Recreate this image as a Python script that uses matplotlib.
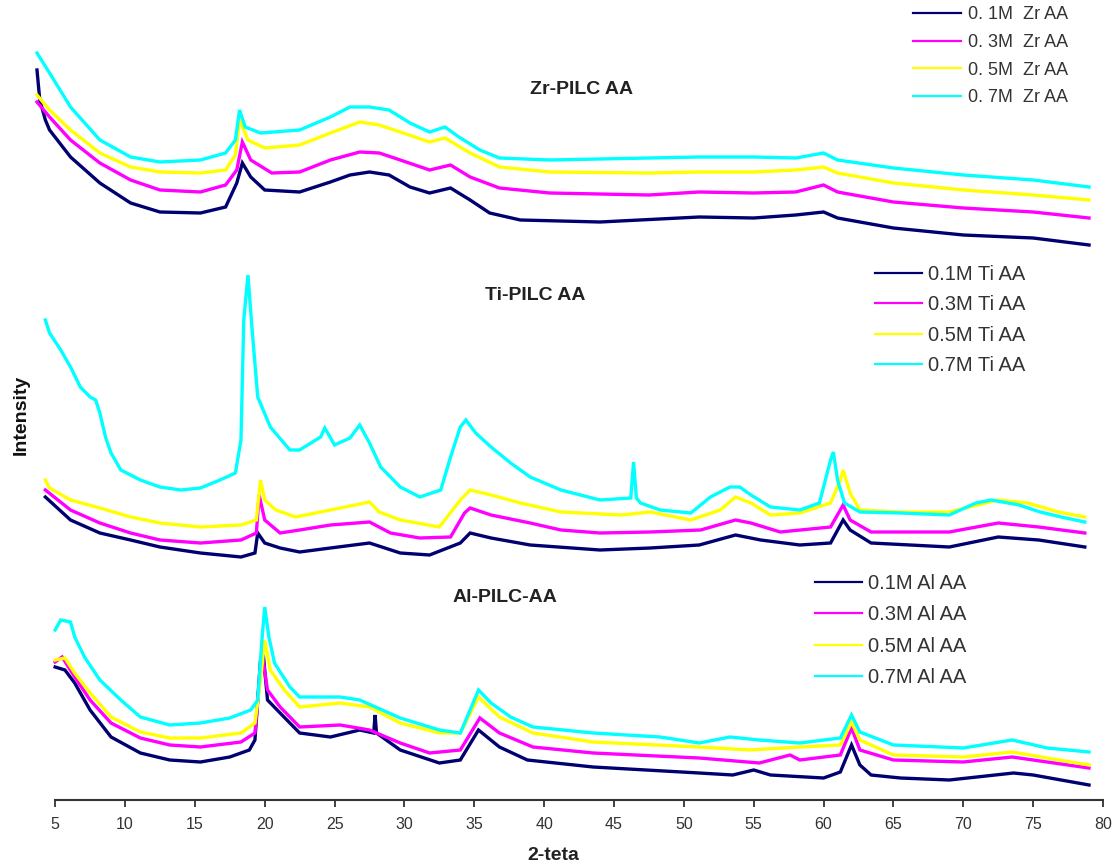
import matplotlib
matplotlib.use("Agg")
import matplotlib.pyplot as plt
from matplotlib.lines import Line2D

plt.rcParams['font.family'] = ['Liberation Sans', 'DejaVu Sans']

# colours of the four concentrations
colors = ['#000070', '#ff00ff', '#ffff00', '#00ffff']
conc = ['0.1M', '0.3M', '0.5M', '0.7M']

# ---- Zr-PILC AA (2-theta, intensity) ----
zr_01_x = [3.7, 3.9, 4.3, 4.6, 6.1, 8.2, 10.4, 12.5, 15.4, 17.2, 18.0, 18.4, 19.0, 20.0, 22.5, 24.7, 26.1,
           27.5, 28.9, 30.4, 31.8, 33.3, 34.7, 36.1, 38.3, 44, 51.1, 55, 58, 60, 61, 65, 70, 75, 79]
zr_01_y = [730, 700, 680, 670, 643, 617, 597, 588, 587, 593, 617, 637, 623, 610, 608, 618, 625,
           628, 625, 613, 607, 612, 600, 587, 580, 578, 583, 582, 585, 588, 582, 572, 565, 562, 555]
zr_03_x = [3.7, 4.6, 6.1, 8.2, 10.4, 12.5, 15.4, 17.2, 18.0, 18.4, 19.0, 20.5, 22.5, 24.7, 26.8, 28.2,
           29.7, 31.8, 33.3, 34.7, 36.8, 40.4, 47.5, 51.1, 55, 58, 60, 61, 65, 70, 75, 79]
zr_03_y = [698, 683, 660, 637, 620, 610, 608, 615, 630, 658, 640, 627, 628, 640, 648, 647,
           640, 630, 635, 623, 612, 607, 605, 608, 607, 608, 615, 608, 598, 592, 588, 582]
zr_05_x = [3.7, 4.6, 6.1, 8.2, 10.4, 12.5, 15.4, 17.2, 17.9, 18.2, 18.8, 20, 22.5, 24.7, 26.8, 28.2,
           29.7, 31.8, 32.9, 34.7, 36.8, 40.4, 47.5, 51.1, 55, 58, 60, 61, 65, 70, 75, 79]
zr_05_y = [705, 690, 670, 647, 633, 628, 627, 630, 645, 680, 660, 652, 655, 667, 678, 675,
           668, 658, 662, 647, 633, 628, 627, 628, 628, 630, 633, 627, 617, 610, 605, 600]
zr_07_x = [3.7, 4.6, 6.1, 8.2, 10.4, 12.5, 15.4, 17.2, 17.9, 18.2, 18.6, 19.7, 22.5, 24.7, 26.1, 27.5,
           28.9, 30.4, 31.8, 32.9, 33.9, 35.4, 36.8, 40.4, 47.5, 51.1, 55, 58, 60, 61, 65, 70, 75, 79]
zr_07_y = [747, 727, 693, 660, 643, 638, 640, 647, 660, 690, 673, 667, 670, 683, 693, 693,
           690, 677, 668, 673, 663, 650, 642, 640, 642, 643, 643, 642, 647, 640, 632, 625, 620, 613]

# ---- Ti-PILC AA ----
ti_01_x = [4.3, 6.1, 8.2, 10.4, 12.5, 15.4, 18.3, 19.3, 19.5, 20.0, 21.1, 22.5, 24.7, 27.5, 29.7, 31.8,
           34.0, 34.7, 36.2, 39.0, 44.0, 47.6, 51.1, 53.7, 55.5, 58.3, 60.5, 61.4, 61.9, 63.4, 69, 72.5,
           75.4, 78.7]
ti_01_y = [303, 280, 267, 260, 253, 247, 243, 247, 267, 257, 252, 248, 252, 257, 247, 245,
           257, 267, 262, 255, 250, 252, 255, 265, 260, 255, 257, 280, 270, 257, 253, 263,
           260, 253]
ti_03_x = [4.3, 6.1, 8.2, 10.4, 12.5, 15.4, 18.3, 19.4, 19.6, 20.0, 21.1, 22.5, 24.7, 27.5, 29.0, 31.1,
           33.3, 34.3, 34.7, 36.2, 39.0, 41.2, 44.0, 47.6, 51.2, 53.7, 54.8, 56.9, 60.5, 61.4, 61.9,
           63.4, 69, 72.5, 75.4, 78.7]
ti_03_y = [310, 290, 277, 267, 260, 257, 260, 267, 305, 280, 267, 270, 275, 278, 267, 262,
           263, 287, 292, 285, 277, 270, 267, 268, 270, 280, 277, 268, 273, 295, 280,
           268, 268, 277, 273, 267]
ti_05_x = [4.3, 4.6, 6.1, 8.2, 10.4, 12.5, 15.4, 18.3, 19.4, 19.7, 20.0, 20.8, 22.2, 24.7, 27.5, 28.2,
           29.7, 32.5, 34.0, 34.7, 36.2, 38.3, 41.2, 45.5, 47.6, 50.5, 52.6, 53.7, 54.8, 56.2, 58.3,
           60.5, 61.2, 61.4, 61.9, 62.6, 65.5, 69, 72.5, 74.6, 76.8, 78.7]
ti_05_y = [320, 312, 300, 292, 283, 277, 273, 275, 280, 320, 300, 290, 283, 290, 298, 288,
           280, 273, 300, 310, 305, 297, 288, 285, 288, 280, 290, 303, 297, 285, 287,
           297, 320, 330, 307, 290, 288, 288, 300, 297, 288, 283]
ti_07_x = [4.3, 4.6, 5.4, 6.1, 6.8, 7.5, 7.9, 8.2, 8.6, 9.0, 9.7, 11.1, 12.5, 14.0, 15.4, 16.8, 17.9,
           18.3, 18.5, 18.8, 19.1, 19.5, 20.4, 21.8, 22.5, 24.0, 24.3, 25.0, 26.1, 26.8, 27.5, 28.3,
           29.7, 31.1, 32.6, 33.3, 34.0, 34.4, 35.1, 36.2, 37.6, 39.0, 41.2, 44.0, 46.2, 46.4, 46.6,
           46.9, 48.3, 50.5, 51.9, 53.3, 54.0, 54.8, 56.2, 58.3, 59.7, 60.5, 60.7, 61.0, 61.5, 62.6,
           65.5, 69.0, 70.9, 72.0, 74.0, 75.5, 77.0, 78.7]
ti_07_y = [480, 467, 450, 433, 413, 403, 400, 387, 363, 347, 330, 320, 313, 310, 312, 320, 327,
           360, 480, 525, 470, 403, 373, 350, 350, 363, 372, 355, 362, 375, 357, 333,
           313, 303, 310, 343, 373, 380, 367, 353, 337, 323, 310, 300, 302, 338, 302,
           297, 290, 287, 303, 313, 313, 305, 293, 290, 297, 340, 348, 320, 297, 288,
           287, 285, 297, 300, 295, 288, 283, 278]

# ---- Al-PILC-AA ----
al_01_x = [5.0, 5.7, 6.4, 7.5, 9.0, 11.1, 13.2, 15.4, 17.5, 18.9, 19.3, 19.7, 19.9, 20.2, 21.1, 22.5,
           24.7, 26.8, 27.8, 27.9, 28.0, 29.7, 32.5, 34.0, 35.3, 36.8, 38.8, 43.5, 51.1, 53.5, 55.0,
           56.2, 60.0, 61.2, 62.0, 62.6, 63.4, 65.5, 69, 73.6, 75, 79]
al_01_y = [133, 130, 117, 90, 63, 47, 40, 38, 43, 50, 60, 140, 145, 100, 87, 67,
           63, 70, 67, 85, 67, 50, 37, 40, 70, 53, 40, 33, 27, 25, 30,
           25, 22, 28, 55, 35, 25, 22, 20, 27, 25, 15]
al_03_x = [5.0, 5.5, 6.4, 7.5, 9.0, 11.1, 13.2, 15.4, 18.3, 19.3, 19.4, 19.8, 20.2, 21.1, 22.5, 25.4,
           27.5, 29.7, 31.8, 34.0, 35.4, 36.8, 39.2, 43.5, 51.1, 55.4, 57.6, 58.3, 61.2, 62.0, 62.6,
           65, 70, 73.5, 76, 79]
al_03_y = [138, 143, 123, 100, 77, 62, 55, 53, 58, 67, 83, 147, 110, 93, 73, 75,
           70, 57, 47, 50, 82, 67, 53, 47, 42, 37, 45, 40, 45, 72, 50,
           40, 38, 43, 38, 32]
al_05_x = [5.0, 5.7, 6.4, 7.5, 9.0, 11.1, 13.2, 15.4, 18.3, 19.3, 19.7, 20.0, 20.4, 21.4, 22.5, 25.4,
           27.5, 29.7, 32.5, 34.0, 35.3, 36.8, 39.2, 43.5, 51.1, 54.7, 58.3, 61.2, 62.0, 62.6, 65,
           70, 73.5, 76, 79]
al_05_y = [140, 142, 127, 107, 83, 68, 62, 62, 67, 77, 120, 160, 130, 110, 93, 97,
           93, 77, 67, 67, 103, 83, 67, 58, 53, 50, 53, 55, 78, 60, 45,
           43, 48, 42, 35]
al_07_x = [5.0, 5.4, 6.1, 6.4, 7.1, 8.2, 9.7, 11.1, 13.2, 15.4, 17.5, 19.0, 19.5, 19.8, 20.0, 20.3,
           20.7, 21.8, 22.5, 25.4, 26.8, 29.7, 32.5, 34.0, 34.7, 35.3, 36.2, 37.6, 39.2, 43.5, 48.3,
           51.1, 53.3, 55.4, 58.3, 61.2, 62.0, 62.6, 65, 70, 73.5, 76, 79]
al_07_y = [170, 180, 178, 163, 143, 120, 100, 83, 75, 77, 82, 90, 100, 160, 193, 163,
           137, 113, 103, 103, 100, 82, 70, 67, 90, 110, 97, 83, 73, 67, 63,
           57, 63, 60, 57, 62, 85, 68, 55, 52, 60, 52, 48]

groups = [
    ('Zr', [(zr_01_x, zr_01_y), (zr_03_x, zr_03_y), (zr_05_x, zr_05_y), (zr_07_x, zr_07_y)]),
    ('Ti', [(ti_01_x, ti_01_y), (ti_03_x, ti_03_y), (ti_05_x, ti_05_y), (ti_07_x, ti_07_y)]),
    ('Al', [(al_01_x, al_01_y), (al_03_x, al_03_y), (al_05_x, al_05_y), (al_07_x, al_07_y)]),
]
legend_labels = {
    'Zr': ['0. 1M  Zr AA', '0. 3M  Zr AA', '0. 5M  Zr AA', '0. 7M  Zr AA'],
    'Ti': [f'{m} Ti AA' for m in conc],
    'Al': [f'{m} Al AA' for m in conc],
}

W, H = 1120, 867
fig = plt.figure(figsize=(W/100, H/100), dpi=100)
ax = fig.add_axes([30/W, 67/H, 1073/W, 800/H])

for name, series in groups:
    for (x, y), c in zip(series, colors):
        ax.plot(x, y, color=c, lw=2.4, solid_joinstyle='miter')

ax.set_xlim(3.2, 80)
ax.set_ylim(0, 800)
ax.set_xticks(range(5, 81, 5))
ax.set_yticks([])
for s in ['top', 'right', 'left']:
    ax.spines[s].set_visible(False)
ax.spines['bottom'].set_bounds(5, 80)
ax.spines['bottom'].set_color('#333333')
ax.spines['bottom'].set_linewidth(1.5)
ax.tick_params(axis='x', direction='out', length=5, width=1.3, color='#333333',
               labelsize=11.5, labelcolor='#333333', pad=7)
fig.text(553/W, 1 - 855/H, '2-teta', ha='center', va='center',
         fontsize=14, fontweight='bold', color='#222222')
fig.text(21/W, 1 - 415/H, 'Intensity', rotation=90, ha='center', va='center',
         fontsize=14, fontweight='bold', color='#111111')

# panel titles
title_kw = dict(ha='center', va='center', fontsize=14, fontweight='bold', color='#222222')
fig.text(582/W, 1 - 89/H, 'Zr-PILC AA', **title_kw)
fig.text(535/W, 1 - 295/H, 'Ti-PILC AA', **title_kw)
fig.text(505/W, 1 - 598/H, 'Al-PILC-AA', **title_kw)

# legends for each panel: left px, top px, font size, handle length, pad, spacing
leg_pos = {'Zr': (913, 6, 13, 2.66, 0.39, 0.6),
           'Ti': (875, 265, 14.5, 2.35, 0.3, 0.57),
           'Al': (815, 574, 14.5, 2.35, 0.3, 0.62)}
for name, series in groups:
    handles = [Line2D([], [], color=c, lw=1.6) for c in colors]
    px, py, fs, hl, hp, sp = leg_pos[name]
    leg = fig.legend(handles, legend_labels[name], loc='upper left',
                     bbox_to_anchor=(px/W, 1 - py/H), frameon=False, fontsize=fs,
                     handlelength=hl, handletextpad=hp, labelspacing=sp,
                     borderpad=0, borderaxespad=0)
    for t in leg.get_texts():
        t.set_color('#333333')

fig.savefig('out.png', dpi=100, facecolor='white')
